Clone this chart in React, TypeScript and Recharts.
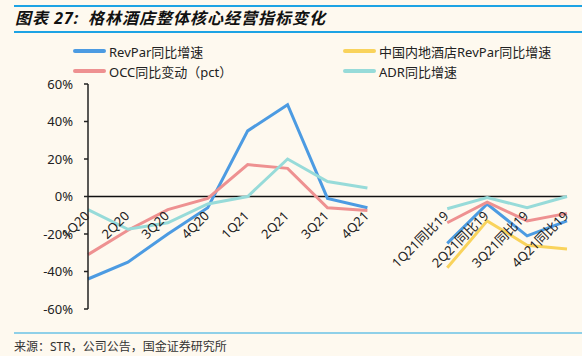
import { LineChart, Line, XAxis, YAxis, ReferenceLine } from 'recharts';

const categories = [
  '1Q20', '2Q20', '3Q20', '4Q20', '1Q21', '2Q21', '3Q21', '4Q21', '',
  '1Q21同比19', '2Q21同比19', '3Q21同比19', '4Q21同比19',
];
const revparYoy = [-44, -35, -20, -6, 35, 49, -1, -6, null, -25, -4, -21, -13];
const chinaRevparYoy = [null, null, null, null, null, null, null, null, null, -38, -13, -26, -28];
const occYoy = [-31, -18, -7, -1, 17, 15, -6, -7.5, null, -14, -3, -13, -9];
const adrYoy = [-7, -17.5, -14, -4, 0, 20, 8, 4.5, null, -6.5, -0.5, -6, 0];
const yTicks = [-60, -40, -20, 0, 20, 40, 60];

const series = [
  { key: 'revpar', name: 'RevPar同比增速', color: '#4C9BE2' },
  { key: 'china', name: '中国内地酒店RevPar同比增速', color: '#F9D35C' },
  { key: 'occ', name: 'OCC同比变动（pct）', color: '#EE9191' },
  { key: 'adr', name: 'ADR同比增速', color: '#97DBD9' },
];

const data = categories.map((cat, i) => ({
  cat,
  revpar: revparYoy[i],
  china: chinaRevparYoy[i],
  occ: occYoy[i],
  adr: adrYoy[i],
}));

const W = 582;
const H = 356;
const PLOT_TOP = 84;
const PLOT_BOTTOM = 309;
const zeroY = PLOT_TOP + (PLOT_BOTTOM - PLOT_TOP) * (60 / 120);

function CategoryTick(props: any) {
  const { x, payload } = props;
  return (
    <text
      transform={`translate(${x - 1},${zeroY + 17}) rotate(-45)`}
      textAnchor="end"
      dy="0.35em"
      fontSize={13}
      fill="#222"
    >
      {payload.value}
    </text>
  );
}

export default function App() {
  return (
    <div
      style={{
        position: 'relative',
        width: W,
        height: H,
        background: '#FEF9EF',
        fontFamily: "'Noto Sans', 'Noto Sans CJK SC', sans-serif",
        overflow: 'hidden',
      }}
    >
      <style>{'body{margin:0}'}</style>
      <LineChart
        width={W}
        height={H}
        data={data}
        margin={{ top: PLOT_TOP, right: 15, left: 28, bottom: H - PLOT_BOTTOM - 1 }}
      >
        <XAxis
          dataKey="cat"
          axisLine={false}
          tickLine={false}
          height={1}
          interval={0}
          tick={<CategoryTick />}
        />
        <YAxis
          domain={[-60, 60]}
          ticks={yTicks}
          tickFormatter={(v) => `${v}%`}
          width={60}
          tickSize={4}
          tickMargin={11}
          axisLine={{ stroke: '#222', strokeWidth: 1.5 }}
          tickLine={{ stroke: '#222', strokeWidth: 1.5 }}
          tick={{ fontSize: 13, fill: '#222' }}
        />
        <ReferenceLine y={0} stroke="#111" strokeWidth={1.5} />
        {series.map((s) => (
          <Line
            key={s.key}
            type="linear"
            dataKey={s.key}
            name={s.name}
            stroke={s.color}
            strokeWidth={3}
            dot={false}
            isAnimationActive={false}
          />
        ))}
      </LineChart>

      {/* title block */}
      <div style={{ position: 'absolute', left: 14, right: 0, top: 5, height: 2, background: '#1DA3E4' }} />
      <div
        style={{
          position: 'absolute',
          left: 15,
          top: 8,
          fontSize: 16,
          fontWeight: 'bold',
          fontStyle: 'italic',
          color: '#111',
          letterSpacing: 1,
          whiteSpace: 'nowrap',
          lineHeight: '20px',
        }}
      >
        图表 27:
      </div>
      <div
        style={{
          position: 'absolute',
          left: 88,
          top: 8,
          fontSize: 16,
          fontWeight: 'bold',
          fontStyle: 'italic',
          color: '#111',
          letterSpacing: 1,
          whiteSpace: 'nowrap',
          lineHeight: '20px',
        }}
      >
        格林酒店整体核心经营指标变化
      </div>
      <div style={{ position: 'absolute', left: 14, right: 0, top: 31, height: 2, background: '#1DA3E4' }} />

      {/* legend */}
      {series.map((s, i) => {
        const left = i % 2 === 0 ? 73 : 343;
        const top = i < 2 ? 51 : 71;
        return (
          <div key={s.key} style={{ position: 'absolute', left, top: top - 9, height: 18, display: 'flex', alignItems: 'center' }}>
            <div style={{ width: 33, height: 4, borderRadius: 2, background: s.color, marginRight: 3 }} />
            <span style={{ fontSize: 13, color: '#222', whiteSpace: 'nowrap' }}>{s.name}</span>
          </div>
        );
      })}

      {/* source */}
      <div style={{ position: 'absolute', left: 14, right: 0, top: 332, height: 2, background: '#8FD0E8' }} />
      <div
        style={{
          position: 'absolute',
          left: 14,
          top: 339,
          fontSize: 12,
          color: '#333',
          whiteSpace: 'nowrap',
          lineHeight: '16px',
        }}
      >
        来源：STR，公司公告，国金证券研究所
      </div>
    </div>
  );
}
